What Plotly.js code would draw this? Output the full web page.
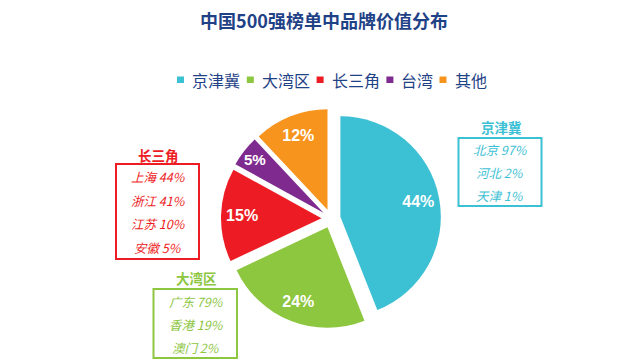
<!DOCTYPE html>
<html>
<head>
<meta charset="utf-8">
<script src="https://cdn.plot.ly/plotly-3.0.1.min.js"></script>
<style>html,body{margin:0;padding:0;background:#fff;}#chart{width:628px;height:364px;}</style>
</head>
<body>
<div id="chart"></div>
<script>
// ---- data ----
const categories = ['京津冀', '大湾区', '长三角', '台湾', '其他'];
const values = [44, 24, 15, 5, 12];
const colors = ['#3cc0d4', '#8dc63f', '#ed1c24', '#7f2a8e', '#f7941d'];

const jjjNames = ['北京', '河北', '天津'];
const jjjShares = [97, 2, 1];
const csjNames = ['上海', '浙江', '江苏', '安徽'];
const csjShares = [44, 41, 10, 5];
const dwqNames = ['广东', '香港', '澳门'];
const dwqShares = [79, 19, 2];

const titleText = '中国500强榜单中品牌价值分布';

// ---- layout helpers ----
const W = 628, H = 364;
const px = x => x / W;
const py = y => 1 - y / H;
const CJK = '"Microsoft YaHei", "Noto Sans CJK SC", sans-serif';
const navy = '#1f4287';

const shapes = [];
const annotations = [];

// custom legend
let lx = 177;
categories.forEach((c, i) => {
  shapes.push({type: 'rect', xref: 'paper', yref: 'paper',
    x0: px(lx), x1: px(lx + 7), y0: py(83), y1: py(76.5),
    fillcolor: colors[i], line: {width: 0}});
  annotations.push({xref: 'paper', yref: 'paper', x: px(lx + 15), y: py(80),
    xanchor: 'left', yanchor: 'middle', showarrow: false, text: c,
    borderpad: 0, borderwidth: 0,
    font: {family: CJK, size: 16, color: navy}});
  lx += 19.7 + c.length * 16.7;
});

// detail boxes
function detailBox(catIdx, names, shares, box, titleY, cx) {
  const col = colors[catIdx];
  shapes.push({type: 'rect', xref: 'paper', yref: 'paper',
    x0: px(box[0]), x1: px(box[1]), y0: py(box[3]), y1: py(box[2]),
    line: {color: col, width: 2}, fillcolor: 'rgba(0,0,0,0)'});
  annotations.push({xref: 'paper', yref: 'paper', x: px((box[0] + box[1]) / 2 + 1), y: py(titleY),
    xanchor: 'center', yanchor: 'middle', showarrow: false,
    text: '<b>' + categories[catIdx] + '</b>', borderpad: 0, borderwidth: 0,
    font: {family: CJK, size: 13.5, color: col}});
  const top = box[2], bot = box[3];
  const step = (bot - top) / (names.length);
  names.forEach((n, j) => {
    annotations.push({xref: 'paper', yref: 'paper', x: px(cx), y: py(top + step * (j + 0.5) + 0.5),
      xanchor: 'center', yanchor: 'middle', showarrow: false,
      text: '<i>' + n + ' ' + shares[j] + '%</i>', borderpad: 0, borderwidth: 0,
      font: {family: CJK, size: 12.5, color: col}});
  });
}
detailBox(0, jjjNames, jjjShares, [458.5, 541.5, 138, 206], 127, 500);
detailBox(2, csjNames, csjShares, [116, 199, 164, 259], 155, 158);
detailBox(1, dwqNames, dwqShares, [153.5, 237, 289, 358], 278, 196);

const cx = 331, cy = 218.5, half = 110;
const domain = {x: [px(cx - half), px(cx + half)], y: [py(cy + half), py(cy - half)]};

const pieTrace = {
  type: 'pie',
  labels: categories,
  values: values,
  sort: false,
  direction: 'clockwise',
  rotation: 0,
  pull: 0.095,
  marker: {colors: colors, line: {width: 0}},
  textinfo: 'none',
  domain: domain,
  hoverinfo: 'label+percent',
  showlegend: false
};

// transparent ring carrying the percentage labels at ~0.8 of the radius
const labelTrace = {
  type: 'pie',
  labels: categories,
  values: values,
  sort: false,
  direction: 'clockwise',
  rotation: 0,
  pull: 0.095,
  hole: 0.58,
  marker: {colors: categories.map(() => 'rgba(0,0,0,0)'), line: {width: 0}},
  texttemplate: '%{value}%',
  textposition: 'inside',
  insidetextorientation: 'horizontal',
  insidetextfont: {family: '"Liberation Sans", Arial, sans-serif', size: 16, color: '#ffffff', weight: 'bold'},
  domain: domain,
  hoverinfo: 'skip',
  showlegend: false
};

const layout = {
  width: W, height: H,
  margin: {l: 0, r: 0, t: 0, b: 0},
  paper_bgcolor: '#ffffff',
  showlegend: false,
  title: {text: titleText, x: px(324), xanchor: 'center', xref: 'paper',
    y: py(22), yanchor: 'middle', yref: 'paper',
    font: {family: CJK, size: 18, color: navy, weight: 'bold'}},
  shapes: shapes,
  annotations: annotations
};

Plotly.newPlot('chart', [pieTrace, labelTrace], layout, {displayModeBar: false, staticPlot: true});
</script>
</body>
</html>
